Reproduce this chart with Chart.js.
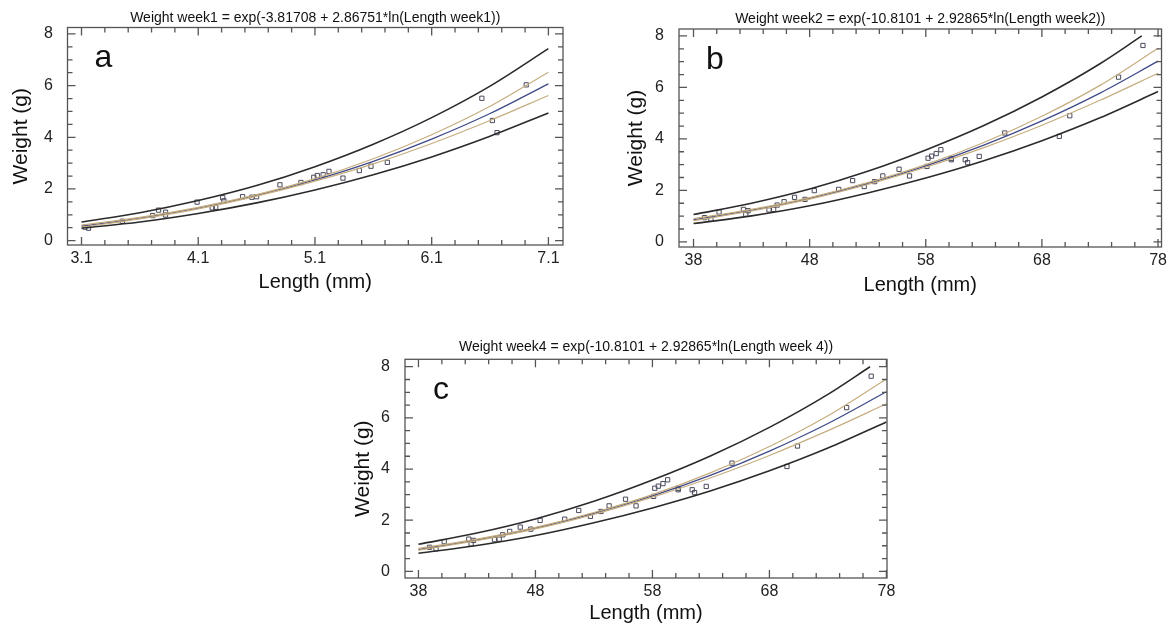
<!DOCTYPE html>
<html>
<head>
<meta charset="utf-8">
<script src="https://cdn.jsdelivr.net/npm/chart.js@4.4.0/dist/chart.umd.min.js"></script>
<style>
  body { margin: 0; background: #fff; width: 1171px; height: 630px; overflow: hidden; position: relative; }
  canvas { position: absolute; }
</style>
</head>
<body>
<canvas id="chartA" width="626" height="300" style="left:0;top:0"></canvas>
<canvas id="chartB" width="556" height="300" style="left:615px;top:0"></canvas>
<canvas id="chartC" width="600" height="300" style="left:342px;top:330px"></canvas>
<script>
// axis ticks
const weekOneTicks = [3.1, 4.1, 5.1, 6.1, 7.1];
const weekOneTickLabels = ['3.1', '4.1', '5.1', '6.1', '7.1'];
const weekTwoTicks = [38, 48, 58, 68, 78];
const weekTwoTickLabels = ['38', '48', '58', '68', '78'];
const weightTicks = [0, 2, 4, 6, 8];
const weightTickLabels = ['0', '2', '4', '6', '8'];

// week 1 : fitted curve, confidence and prediction limits
const w1Length = [3.1, 3.6, 4.1, 4.6, 5.1, 5.6, 6.1, 6.6, 7.1];
const w1Fit = [0.56, 0.87, 1.26, 1.75, 2.35, 3.07, 3.93, 4.92, 6.07];
const w1UpperPred = [0.72, 1.08, 1.55, 2.13, 2.86, 3.73, 4.76, 5.98, 7.43];
const w1LowerPred = [0.48, 0.72, 1.05, 1.46, 1.96, 2.55, 3.24, 4.04, 4.94];
const w1UpperConf = [0.6, 0.9, 1.29, 1.78, 2.4, 3.17, 4.1, 5.2, 6.52];
const w1LowerConf = [0.52, 0.84, 1.23, 1.72, 2.3, 2.97, 3.76, 4.65, 5.62];
const w1ObsLength = [3.13, 3.16, 3.45, 3.71, 3.76, 3.82, 3.82, 4.09, 4.22, 4.25, 4.31, 4.32, 4.48, 4.56, 4.6, 4.8, 4.98, 5.09, 5.12, 5.17, 5.22, 5.34, 5.48, 5.58, 5.72, 6.53, 6.62, 6.66, 6.91];
const w1ObsWeight = [0.52, 0.48, 0.75, 0.97, 1.18, 1.1, 0.99, 1.49, 1.27, 1.29, 1.66, 1.54, 1.7, 1.68, 1.7, 2.16, 2.25, 2.45, 2.52, 2.55, 2.68, 2.42, 2.71, 2.88, 3.03, 5.51, 4.65, 4.18, 6.03];

// week 2 (week 4 panel shows the same values)
const w2Length = [38, 43, 48, 53, 58, 63, 68, 73, 78];
const w2UpperLength = [38, 43, 48, 53, 58, 63, 68, 73, 76.6];
const w2Fit = [0.86, 1.23, 1.69, 2.27, 2.95, 3.76, 4.7, 5.78, 7.02];
const w2UpperPred = [1.06, 1.5, 2.05, 2.74, 3.57, 4.52, 5.63, 6.92, 8.0];
const w2LowerPred = [0.71, 1.01, 1.4, 1.9, 2.48, 3.15, 3.93, 4.82, 5.84];
const w2UpperConf = [0.9, 1.26, 1.72, 2.3, 3.0, 3.86, 4.88, 6.08, 7.52];
const w2LowerConf = [0.82, 1.2, 1.66, 2.23, 2.9, 3.66, 4.53, 5.5, 6.55];
const w2ObsLength = [38.95, 39.5, 40.2, 42.3, 42.5, 42.7, 44.5, 44.9, 45.2, 45.8, 46.7, 47.6, 48.4, 50.5, 51.7, 52.7, 53.6, 54.3, 55.7, 56.6, 58.1, 58.2, 58.5, 58.9, 59.3, 60.2, 60.2, 61.4, 61.6, 62.6, 64.8, 69.5, 70.4, 74.6, 76.7];
const w2ObsWeight = [0.94, 0.88, 1.16, 1.26, 1.07, 1.21, 1.24, 1.26, 1.43, 1.56, 1.73, 1.65, 1.99, 2.04, 2.38, 2.15, 2.34, 2.56, 2.82, 2.56, 2.93, 3.25, 3.33, 3.43, 3.58, 3.24, 3.19, 3.19, 3.08, 3.32, 4.23, 4.1, 4.9, 6.4, 7.63];

const FONT = "'Liberation Sans', Arial, Helvetica, sans-serif";
Chart.defaults.font.family = FONT;
Chart.defaults.color = '#222';

const pairs = (xs, ys) => xs.map((x, i) => ({x: x, y: ys[i]}));

// box with inner ticks on all four sides + panel letter
const framePlugin = {
  id: 'frame',
  afterDraw(chart, args, opts) {
    const {ctx, chartArea: a} = chart;
    const x = chart.scales.x, y = chart.scales.y;
    ctx.save();
    ctx.strokeStyle = '#555';
    ctx.lineWidth = 1.3;
    ctx.strokeRect(a.left, a.top, a.right - a.left, a.bottom - a.top);
    ctx.beginPath();
    for (let i = 0; i <= opts.yCount; i++) {
      const py = y.getPixelForValue(i * opts.yStep);
      const len = i % opts.yMajor === 0 ? 8 : 5;
      ctx.moveTo(a.left, py); ctx.lineTo(a.left + len, py);
      ctx.moveTo(a.right, py); ctx.lineTo(a.right - len, py);
    }
    for (let i = 0; i <= opts.xCount; i++) {
      const px = x.getPixelForValue(opts.xFrom + i * opts.xStep);
      const len = i % opts.xMajor === 0 ? 8 : 5;
      ctx.moveTo(px, a.bottom); ctx.lineTo(px, a.bottom - len);
      ctx.moveTo(px, a.top); ctx.lineTo(px, a.top + len);
    }
    ctx.stroke();
    ctx.fillStyle = '#111';
    ctx.font = '32px ' + FONT;
    ctx.textAlign = 'center';
    ctx.textBaseline = 'middle';
    ctx.fillText(opts.letter, a.left + 36, a.top + 31);
    ctx.restore();
  }
};

function curve(xs, ys, color, width) {
  return {
    data: pairs(xs, ys),
    showLine: true,
    borderColor: color,
    borderWidth: width,
    pointRadius: 0,
    cubicInterpolationMode: 'monotone',
    fill: false
  };
}

function makeChart(id, p) {
  return new Chart(document.getElementById(id), {
    type: 'scatter',
    data: {
      datasets: [
        curve(p.upperLength, p.upperPred, '#2b2b2b', 1.6),
        curve(p.length, p.lowerPred, '#2b2b2b', 1.6),
        curve(p.length, p.upperConf, '#c6ad7f', 1.2),
        curve(p.length, p.lowerConf, '#c6ad7f', 1.2),
        curve(p.length, p.fit, '#3f4a88', 1.3),
        {
          data: pairs(p.obsLength, p.obsWeight),
          pointStyle: 'rect',
          pointRadius: 3,
          borderWidth: 1,
          borderColor: '#4a4a5c',
          backgroundColor: 'rgba(255,255,255,0)'
        }
      ]
    },
    options: {
      responsive: false,
      animation: false,
      layout: { padding: { left: 0, right: p.padRight, top: 0, bottom: 0 } },
      plugins: {
        legend: { display: false },
        tooltip: { enabled: false },
        title: {
          display: true,
          text: p.title,
          fullSize: false,
          color: '#111',
          font: { size: 14, weight: 'normal', lineHeight: 1.1 },
          padding: { top: p.titleTop, bottom: p.titleBottom }
        },
        frame: p.frame
      },
      scales: {
        x: {
          type: 'linear',
          min: p.xMin, max: p.xMax,
          grid: { display: false, drawTicks: false },
          border: { display: false },
          afterBuildTicks: s => { s.ticks = p.xTicks.map(v => ({value: v})); },
          afterFit: s => { s.height = p.xHeight; },
          ticks: { font: { size: 16 }, color: '#222', padding: 4, maxRotation: 0,
                   callback: (v, i) => p.xLabels[i] },
          title: { display: true, text: 'Length (mm)', color: '#111',
                   font: { size: 20 }, padding: { top: 0, bottom: p.xTitlePad } }
        },
        y: {
          type: 'linear',
          min: p.yMin, max: p.yMax,
          grid: { display: false, drawTicks: false },
          border: { display: false },
          afterBuildTicks: s => { s.ticks = weightTicks.map(v => ({value: v})); },
          afterFit: s => { s.width = p.yWidth; },
          ticks: { font: { size: 16 }, color: '#222', padding: p.yTickPad,
                   callback: (v, i) => weightTickLabels[i] },
          title: { display: true, text: 'Weight (g)', color: '#111',
                   font: { size: 21 }, padding: { top: 9, bottom: 0 } }
        }
      }
    },
    plugins: [framePlugin]
  });
}

makeChart('chartA', {
  title: 'Weight week1 = exp(-3.81708 + 2.86751*ln(Length week1))',
  length: w1Length, upperLength: w1Length, fit: w1Fit,
  upperPred: w1UpperPred, lowerPred: w1LowerPred,
  upperConf: w1UpperConf, lowerConf: w1LowerConf,
  obsLength: w1ObsLength, obsWeight: w1ObsWeight,
  xTicks: weekOneTicks, xLabels: weekOneTickLabels,
  xMin: 2.98, xMax: 7.225, yMin: -0.17, yMax: 8.25,
  padRight: 63, titleTop: 10, titleBottom: 2.1,
  yWidth: 67.5, yTickPad: 14.5, xHeight: 55, xTitlePad: 6,
  frame: { letter: 'a', yStep: 0.5, yCount: 16, yMajor: 4, xFrom: 3.1, xStep: 0.2, xCount: 20, xMajor: 5 }
});

makeChart('chartB', {
  title: 'Weight week2 = exp(-10.8101 + 2.92865*ln(Length week2))',
  length: w2Length, upperLength: w2UpperLength, fit: w2Fit,
  upperPred: w2UpperPred, lowerPred: w2LowerPred,
  upperConf: w2UpperConf, lowerConf: w2LowerConf,
  obsLength: w2ObsLength, obsWeight: w2ObsWeight,
  xTicks: weekTwoTicks, xLabels: weekTwoTickLabels,
  xMin: 36.75, xMax: 78.3, yMin: -0.2, yMax: 8.27,
  padRight: 7, titleTop: 11, titleBottom: 2.6,
  yWidth: 64, yTickPad: 15, xHeight: 53, xTitlePad: 3,
  frame: { letter: 'b', yStep: 0.5, yCount: 16, yMajor: 4, xFrom: 38, xStep: 2, xCount: 20, xMajor: 5 }
});

makeChart('chartC', {
  title: 'Weight week4 = exp(-10.8101 + 2.92865*ln(Length week 4))',
  length: w2Length, upperLength: w2UpperLength, fit: w2Fit,
  upperPred: w2UpperPred, lowerPred: w2LowerPred,
  upperConf: w2UpperConf, lowerConf: w2LowerConf,
  obsLength: w2ObsLength, obsWeight: w2ObsWeight,
  xTicks: weekTwoTicks, xLabels: weekTwoTickLabels,
  xMin: 36.85, xMax: 78.05, yMin: -0.26, yMax: 8.29,
  padRight: 55, titleTop: 9.5, titleBottom: 4.4,
  yWidth: 63, yTickPad: 15, xHeight: 52, xTitlePad: 5,
  frame: { letter: 'c', yStep: 0.5, yCount: 16, yMajor: 4, xFrom: 38, xStep: 2, xCount: 20, xMajor: 5 }
});
</script>
</body>
</html>
